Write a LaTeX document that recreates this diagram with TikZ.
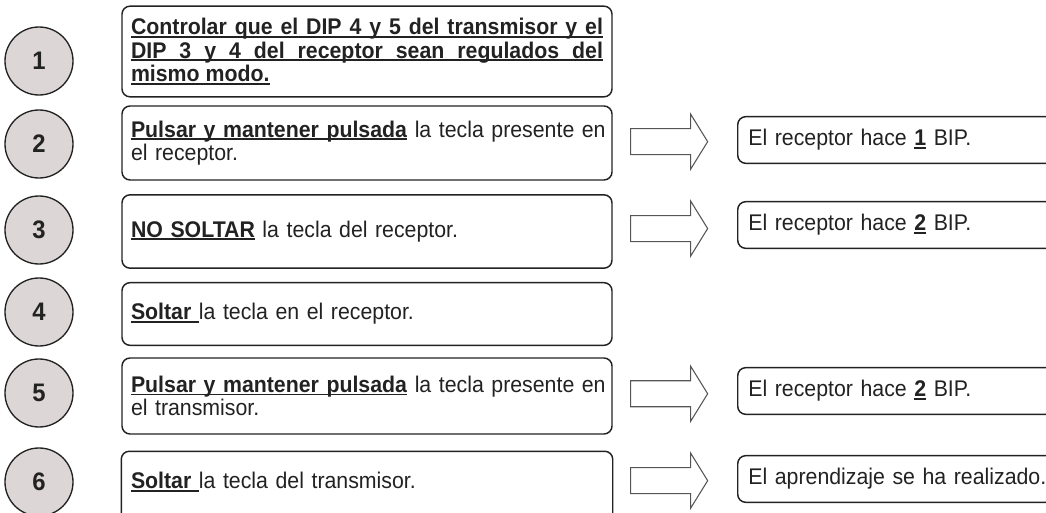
\documentclass[tikz,border=0pt]{standalone}
\usepackage{fontspec}
\setmainfont{Liberation Sans}[FakeStretch=0.94]
\usetikzlibrary{calc}
\definecolor{numfill}{RGB}{221,214,214}
\definecolor{ink}{RGB}{34,34,34}
\definecolor{arrowgray}{RGB}{85,85,85}
\newsavebox{\ulsave}
\newcommand{\uln}[1]{\sbox{\ulsave}{#1}\rlap{\rule[-2.2pt]{\wd\ulsave}{1.4pt}}\usebox{\ulsave}}

\begin{document}
\begin{tikzpicture}[x=0.75pt, y=-0.75pt, text=ink,
  font=\fontsize{17}{17.5}\selectfont,
  num/.style={circle, draw=ink, line width=1pt, fill=numfill, minimum size=51pt, inner sep=0pt, font=\fontsize{19}{19}\selectfont\bfseries},
  task/.style={draw=ink, line width=1.1pt, rounded corners=6pt, text width=354pt, inner xsep=6.75pt, inner ysep=0pt, align=left},
  result/.style={draw=ink, line width=1.1pt, rounded corners=6pt, text width=240pt, inner xsep=8pt, inner ysep=0pt, minimum height=35pt, align=left, anchor=west},
  bigarrow/.pic={\draw[arrowgray, line width=0.8pt, line join=miter] (-38,-13) -- (22,-13) -- (22,-27.5) -- (39,0) -- (22,27.5) -- (22,13) -- (-38,13) -- cycle;}]

\useasboundingbox (0,0) rectangle (1046,513);

\node[num] (n1) at (39,61) {1};
\node[num] (n2) at (39,144) {2};
\node[num] (n3) at (39,230) {3};
\node[num] (n4) at (39,312) {4};
\node[num] (n5) at (39,393) {5};
\node[num] (n6) at (39,482) {6};

\node[task, text width=, minimum width=367.5pt, minimum height=68pt, font=\fontsize{17}{17.5}\selectfont\bfseries] (b1) at (367,51.5) {\uln{\makebox[354pt][s]{Controlar que el DIP 4 y 5 del transmisor y el}}\\\uln{\makebox[354pt][s]{DIP 3 y 4 del receptor sean regulados del}}\\\uln{mismo modo.}\hspace*{\fill}};
\node[task, minimum height=55.5pt] (b2) at (367,143) {\mbox{\uln{\textbf{Pulsar y mantener pulsada}} la tecla presente en}\\el receptor.};
\node[task, minimum height=55pt] (b3) at (367,231.5) {\uln{\textbf{NO SOLTAR}} la tecla del receptor.};
\node[task, minimum height=47pt] (b4) at (367,314) {\uln{\textbf{Soltar}\ }la tecla en el receptor.};
\node[task, minimum height=57pt] (b5) at (367,396) {\mbox{\uln{\textbf{Pulsar y mantener pulsada}} la tecla presente en}\\el transmisor.};
\node[task, draw=none, minimum height=45pt] (b6) at (367,482) {\uln{\textbf{Soltar}\ }la tecla del transmisor.};
\draw[draw=ink, line width=1.1pt, rounded corners=6pt] ([yshift=-30pt]b6.south west) |- (b6.north east) -- ([yshift=-30pt]b6.south east);

\node[result] (r2) at (737,140) {El receptor hace \uln{\textbf{1}} BIP.};
\node[result] (r3) at (737,225) {El receptor hace \uln{\textbf{2}} BIP.};
\node[result] (r5) at (737,391) {El receptor hace \uln{\textbf{2}} BIP.};
\node[result] (r6) at (737,479) {El aprendizaje se ha realizado.};

\pic at ($(b2.east)!0.45!(r2.west)$) {bigarrow};
\pic at ($(b3.east)!0.45!(r3.west)$) {bigarrow};
\pic at ($(b5.east)!0.45!(r5.west)$) {bigarrow};
\pic at ($(b6.east)!0.45!(r6.west)$) {bigarrow};

\end{tikzpicture}
\end{document}
